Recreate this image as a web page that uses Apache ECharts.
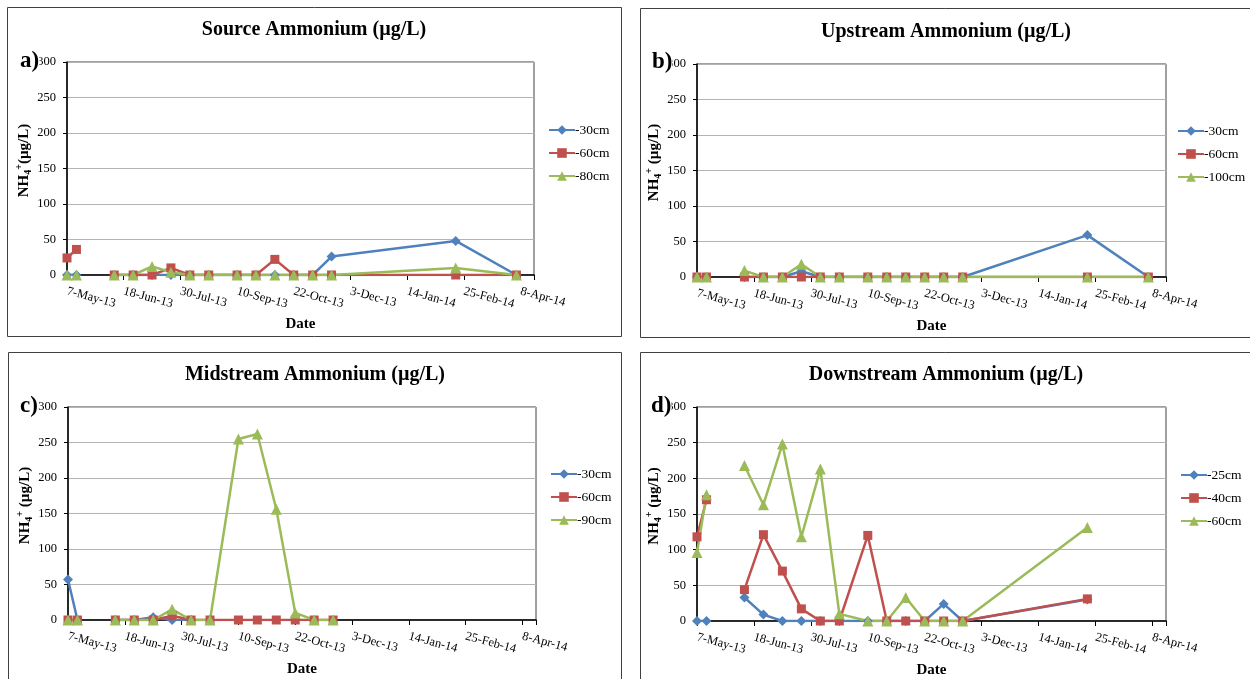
<!DOCTYPE html>
<html>
<head>
<meta charset="utf-8">
<script src="https://cdn.jsdelivr.net/npm/echarts@6/dist/echarts.min.js"></script>
<style>
html, body { margin: 0; padding: 0; background: #fff; }
#main { width: 1250px; height: 679px; }
</style>
</head>
<body>
<div id="main"></div>
<script>
// sampling dates (28-May is an empty row, it breaks the lines like in Excel)
var dates = ['2013-05-07', '2013-05-14', '2013-05-28', '2013-06-11', '2013-06-25', '2013-07-09',
    '2013-07-23', '2013-08-06', '2013-08-20', '2013-09-10', '2013-09-24', '2013-10-08',
    '2013-10-22', '2013-11-05', '2013-11-19', '2014-02-19', '2014-04-05'];
var xStart = '2013-05-07';
var xEnd = '2014-04-18';
var xTickLabels = ['7-May-13', '18-Jun-13', '30-Jul-13', '10-Sep-13', '22-Oct-13',
    '3-Dec-13', '14-Jan-14', '25-Feb-14', '8-Apr-14'];

// a) Source
var sourceNames = ['-30cm', '-60cm', '-80cm'];
var source30 = [0, 0, null, 0, 0, 0, 0, 0, 0, 0, 0, 0, 0, 0, 26, 48, 0];
var source60 = [24, 36, null, 0, 0, 0, 10, 0, 0, 0, 0, 22, 0, 0, 0, 0, 0];
var source80 = [0, 0, null, 0, 0, 12, 4, 0, 0, 0, 0, 0, 0, 0, 0, 10, 0];

// b) Upstream
var upNames = ['-30cm', '-60cm', '-100cm'];
var up30 = [0, 0, null, 0, 0, 0, 8, 0, 0, 0, 0, 0, 0, 0, 0, 59, 0];
var up60 = [0, 0, null, 0, 0, 0, 0, 0, 0, 0, 0, 0, 0, 0, 0, 0, 0];
var up100 = [0, 0, null, 9, 0, 0, 18, 0, 0, 0, 0, 0, 0, 0, 0, 0, 0];

// c) Midstream
var midNames = ['-30cm', '-60cm', '-90cm'];
var mid30 = [57, 0, null, 0, 0, 4, 0, 0, null, null, null, null, null, null, null, null, null];
var mid60 = [0, 0, null, 0, 0, 0, 6, 0, 0, 0, 0, 0, 0, 0, 0, null, null];
var mid90 = [0, 0, null, 0, 0, 0, 15, 0, 0, 255, 262, 156, 10, 0, 0, null, null];

// d) Downstream
var downNames = ['-25cm', '-40cm', '-60cm'];
var down25 = [0, 0, null, 33, 9, 0, 0, 0, 0, 0, 0, 0, 0, 24, 0, 30, null];
var down40 = [118, 170, null, 44, 121, 70, 17, 0, 0, 120, 0, 0, 0, 0, 0, 31, null];
var down60 = [96, 177, null, 218, 163, 248, 118, 213, 10, 0, 0, 33, 0, 0, 0, 131, null];

var serif = '"Liberation Serif", "Times New Roman", serif';
var colors = ['#4F81BD', '#C0504D', '#9BBB59'];
var symbols = ['diamond', 'rect', 'triangle'];
var symbolSizes = [10, 9, 11];

function dayOf(s) {
    var p = s.split('-');
    var a = Date.UTC(+p[0], +p[1] - 1, +p[2]);
    var p0 = xStart.split('-');
    var b = Date.UTC(+p0[0], +p0[1] - 1, +p0[2]);
    return Math.round((a - b) / 864e5);
}

var panels = [
    {key: 'a', title: 'Source Ammonium (µg/L)', yName: '{b|NH}{s|4}{p|+}{b|(µg/L)}',
        names: sourceNames, values: [source30, source60, source80],
        frame: [7.5, 7.5, 614, 329], grid: [67, 62, 467, 213], legend: [548, 123],
        titleXY: [314, 30], tagXY: [20, 61]},
    {key: 'b', title: 'Upstream Ammonium (µg/L)', yName: '{b|NH}{s|4}{p|+}{b| (µg/L)}',
        names: upNames, values: [up30, up60, up100],
        frame: [640.5, 8.5, 620, 329], grid: [697, 64, 469, 213], legend: [1177, 124],
        titleXY: [946, 32], tagXY: [652, 62]},
    {key: 'c', title: 'Midstream Ammonium (µg/L)', yName: '{b|NH}{s|4}{p|+}{b| (µg/L)}',
        names: midNames, values: [mid30, mid60, mid90],
        frame: [8.5, 352.5, 613, 340], grid: [68, 407, 468, 213], legend: [550, 467],
        titleXY: [315, 375], tagXY: [20, 406]},
    {key: 'd', title: 'Downstream Ammonium (µg/L)', yName: '{b|NH}{s|4}{p|+}{b| (µg/L)}',
        names: downNames, values: [down25, down40, down60],
        frame: [640.5, 352.5, 620, 340], grid: [697, 407, 469, 214], legend: [1180, 468],
        titleXY: [946, 375], tagXY: [651, 406]}
];

var grids = [], xAxes = [], yAxes = [], series = [], legends = [], graphics = [];

panels.forEach(function (p, k) {
    grids.push({
        left: p.grid[0], top: p.grid[1], width: p.grid[2], height: p.grid[3],
        show: true, borderColor: '#404040', borderWidth: 1,
        containLabel: false, outerBoundsMode: 'none'
    });
    xAxes.push({
        gridIndex: k, type: 'value', min: 0, max: dayOf(xEnd), interval: 42,
        name: 'Date', nameLocation: 'middle', nameGap: 42,
        nameTextStyle: {fontFamily: serif, fontWeight: 'bold', fontSize: 15, color: '#000'},
        axisLine: {show: true, onZero: false, lineStyle: {color: '#000', width: 1.5}},
        axisTick: {show: true, length: 5, lineStyle: {color: '#000'}},
        axisLabel: {
            rotate: -15, margin: 16, color: '#000', fontFamily: serif, fontSize: 12.5,
            showMaxLabel: true,
            formatter: function (v) {
                var i = Math.round(v / 42);
                return Math.abs(v - i * 42) < 0.01 ? (xTickLabels[i] || '') : '';
            }
        },
        splitLine: {show: false}
    });
    yAxes.push({
        gridIndex: k, type: 'value', min: 0, max: 300, interval: 50,
        name: p.yName, nameLocation: 'middle', nameRotate: 90, nameGap: 30,
        nameTextStyle: {
            color: '#000',
            padding: [0, 0, 0, 16],
            rich: {
                b: {fontFamily: serif, fontWeight: 'bold', fontSize: 15, lineHeight: 19, color: '#000'},
                s: {fontFamily: serif, fontWeight: 'bold', fontSize: 10, lineHeight: 10, verticalAlign: 'bottom', color: '#000'},
                p: {fontFamily: serif, fontWeight: 'bold', fontSize: 10, lineHeight: 10, verticalAlign: 'top', color: '#000'}
            }
        },
        axisLine: {show: true, onZero: false, lineStyle: {color: '#000', width: 1.5}},
        axisTick: {show: true, length: 4, lineStyle: {color: '#000'}},
        axisLabel: {margin: 11, color: '#000', fontFamily: serif, fontSize: 12.5},
        splitLine: {show: true, lineStyle: {color: '#b4b4b4', width: 1}}
    });
    p.names.forEach(function (n, j) {
        series.push({
            name: p.key + '|' + n, type: 'line', xAxisIndex: k, yAxisIndex: k,
            data: dates.map(function (d, i) {
                var v = p.values[j][i];
                return [dayOf(d), v === null ? '-' : v];
            }),
            symbol: symbols[j], symbolSize: symbolSizes[j], showAllSymbol: true,
            color: colors[j], lineStyle: {width: 2.5, color: colors[j]},
            itemStyle: {color: colors[j]},
            animation: false
        });
    });
    legends.push({
        orient: 'vertical', left: p.legend[0], top: p.legend[1],
        itemWidth: 26, itemHeight: 12, itemGap: 9, padding: 0,
        data: p.names.map(function (n) { return p.key + '|' + n; }),
        formatter: function (n) { return n.split('|')[1]; },
        textStyle: {fontFamily: serif, fontSize: 13.5, color: '#000', padding: [0, 0, 0, -5]},
        selectedMode: false
    });
    graphics.push({
        type: 'rect', silent: true, z: 1,
        shape: {x: p.frame[0], y: p.frame[1], width: p.frame[2], height: p.frame[3]},
        style: {fill: 'none', stroke: '#404040', lineWidth: 1}
    });
    graphics.push({
        type: 'text', silent: true, z: 10, x: p.titleXY[0], y: p.titleXY[1],
        style: {text: p.title, font: 'bold 20px ' + serif, fill: '#000',
            align: 'center', verticalAlign: 'middle', textAlign: 'center', textVerticalAlign: 'middle'}
    });
    graphics.push({
        type: 'text', silent: true, z: 100, x: p.tagXY[0], y: p.tagXY[1],
        style: {text: p.key + ')', font: 'bold 23px ' + serif, fill: '#000',
            backgroundColor: '#fff',
            align: 'left', verticalAlign: 'middle', textAlign: 'left', textVerticalAlign: 'middle'}
    });
});

var chart = echarts.init(document.getElementById('main'), null, {renderer: 'canvas'});
chart.setOption({
    backgroundColor: '#fff',
    animation: false,
    grid: grids,
    xAxis: xAxes,
    yAxis: yAxes,
    legend: legends,
    graphic: graphics,
    series: series
});
</script>
</body>
</html>
